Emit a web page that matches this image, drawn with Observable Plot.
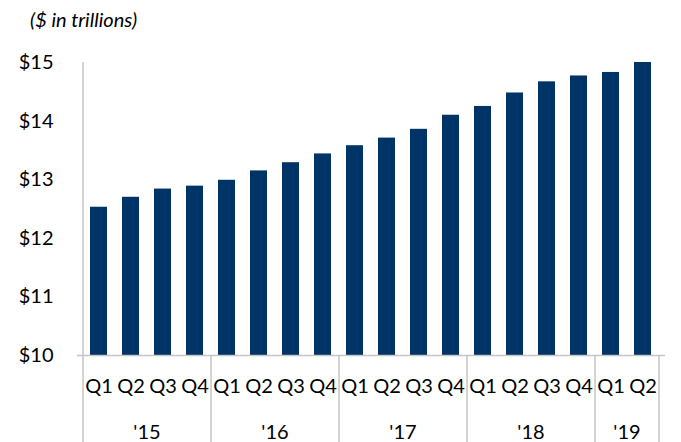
<!DOCTYPE html>
<html>
<head>
<meta charset="utf-8">
<script src="https://cdn.jsdelivr.net/npm/d3@7"></script>
<script src="https://cdn.jsdelivr.net/npm/@observablehq/plot@0.6"></script>
<style>
  html, body { margin: 0; padding: 0; background: #fff; }
  #wrap { width: 681px; height: 442px; position: relative; overflow: hidden; }
  #title { position: absolute; left: 30px; top: 7px; font-family: Lato, sans-serif; font-style: italic; font-size: 20px; color: #000; }
  #chart { position: absolute; left: 0; top: 40px; }
</style>
</head>
<body>
<div id="wrap">
  <div id="title">($ in trillions)</div>
  <div id="chart"></div>
</div>
<script>
const years = ["'15", "'16", "'17", "'18", "'19"];
const yearKeys = ["2015", "2016", "2017", "2018", "2019"];
const quarterCounts = [4, 4, 4, 4, 2];
const quarterLabels = ["Q1", "Q2", "Q3", "Q4"];
const values = [12.53, 12.70, 12.84, 12.89, 12.99, 13.15, 13.29, 13.44,
                13.58, 13.71, 13.86, 14.10, 14.25, 14.48, 14.67, 14.77,
                14.83, 15.00];
const yTicks = [10, 11, 12, 13, 14, 15];

const data = [];
yearKeys.forEach((y, yi) => {
  for (let q = 0; q < quarterCounts[yi]; q++) {
    data.push({key: y + " " + quarterLabels[q], year: y, q: quarterLabels[q], value: values[data.length]});
  }
});
const keys = data.map(d => d.key);
const firstKeys = yearKeys.map(y => data.find(d => d.year === y).key);
const lastKey = keys[keys.length - 1];
const midItems = yearKeys.map((y, yi) => {
  const rows = data.filter(d => d.year === y);
  return {key: rows[rows.length / 2 - 1].key, label: years[yi]};
});

const font = "Lato, sans-serif";
const gray = "#c4c4c4";
const barColor = "#003366";
const fs = 20;

function build(step) {
  return Plot.plot({
    width: 681,
    height: 402,
    marginLeft: 77,
    marginRight: 16,
    marginTop: 22,
    marginBottom: 87,
    style: {fontFamily: font, fontSize: fs + "px", color: "#000", background: "#fff"},
    x: {type: "band", domain: keys, paddingInner: 0.46, paddingOuter: 0.23, align: 0.5},
    y: {domain: [10, 15]},
    marks: [
      Plot.barY(data, {x: "key", y1: 10, y2: "value", fill: barColor}),
      Plot.axisY({ticks: yTicks, tickFormat: d => "$" + d, tickSize: 0, tickPadding: 24, label: null, fontSize: fs}),
      Plot.axisX({tickSize: 0, tickPadding: 23, tickFormat: k => k.split(" ")[1], label: null, fontSize: fs}),
      Plot.ruleY([10], {stroke: gray, strokeWidth: 1.5}),
      Plot.ruleX([keys[0]], {stroke: gray, strokeWidth: 1.5, dx: -step / 2}),
      Plot.ruleX(firstKeys, {y1: 10, y2: 10, insetBottom: -90, stroke: gray, strokeWidth: 1.5, dx: -step / 2}),
      Plot.ruleX([lastKey], {y1: 10, y2: 10, insetBottom: -90, stroke: gray, strokeWidth: 1.5, dx: step / 2}),
      Plot.text(midItems, {x: "key", y: 10, text: "label", dx: step / 2, dy: 77, fontSize: fs, fill: "#000"})
    ]
  });
}

const first = build(0);
const step = first.scale("x").step;
const chart = build(step);
document.getElementById("chart").appendChild(chart);
</script>
</body>
</html>
